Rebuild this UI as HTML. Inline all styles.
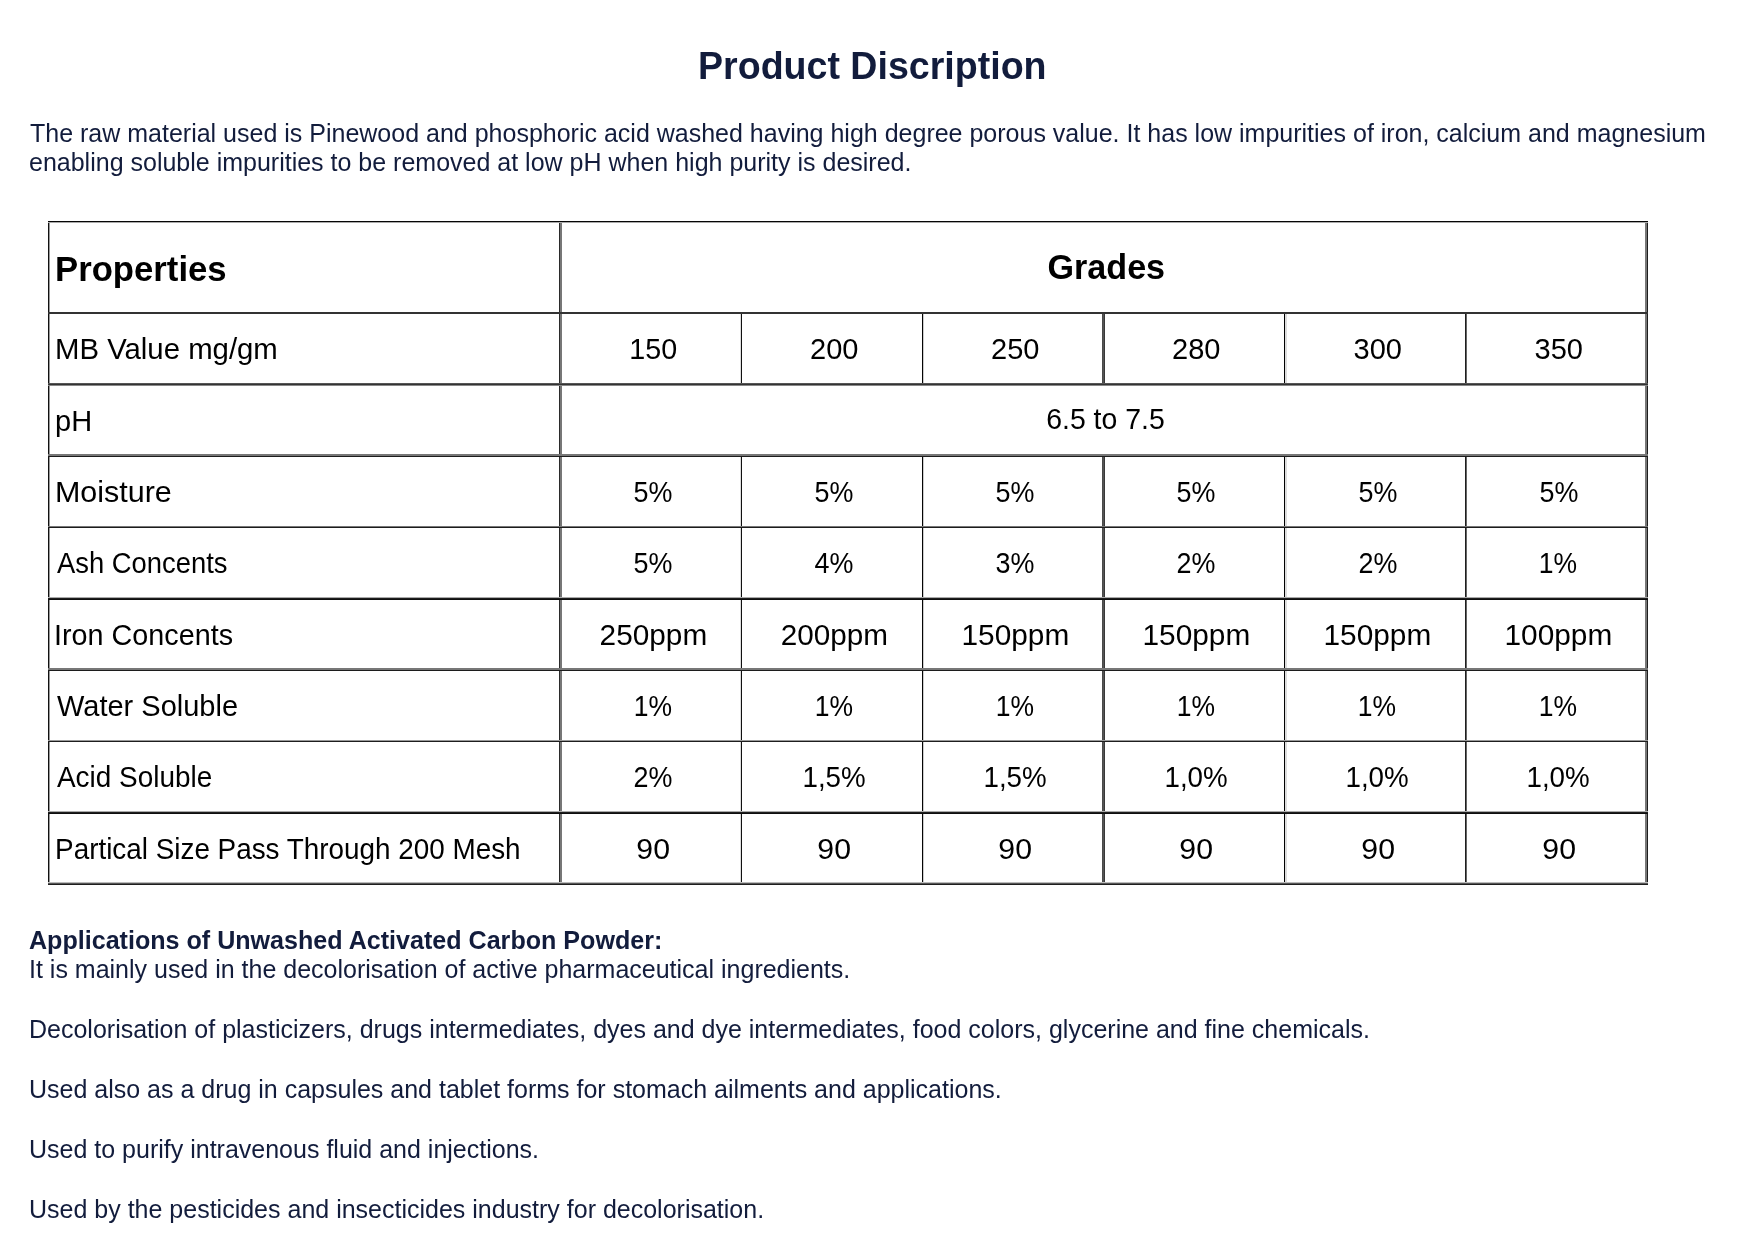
<!DOCTYPE html>
<html><head><meta charset="utf-8"><title>Product Discription</title>
<style>
html,body{margin:0;padding:0;background:#fff;width:1754px;height:1240px;overflow:hidden;}
body{position:relative;font-family:"Liberation Sans", sans-serif;}
#pg{position:absolute;left:0;top:0;width:1754px;height:1240px;will-change:opacity}
.t{position:absolute;line-height:0;white-space:nowrap;}
.l{position:absolute;}
</style></head><body><div id="pg">
<div class="t" style="left:697.5px;transform-origin:2px 0;top:66px;font-size:38px;font-weight:bold;color:#121c3c;transform:scaleX(0.9885);">Product Discription</div>
<div class="t" style="left:30.0px;transform-origin:1px 0;top:133px;font-size:25px;font-weight:normal;color:#121c3c;">The raw material used is Pinewood and phosphoric acid washed having high degree porous value. It has low impurities of iron, calcium and magnesium</div>
<div class="t" style="left:29.0px;transform-origin:2px 0;top:162px;font-size:25px;font-weight:normal;color:#121c3c;">enabling soluble impurities to be removed at low pH when high purity is desired.</div>
<div class="l" style="left:48px;top:221px;width:1px;height:664px;background:#111111"></div>
<div class="l" style="left:49px;top:221px;width:1px;height:664px;background:#999999"></div>
<div class="l" style="left:559px;top:221px;width:1px;height:664px;background:#2a2a2a"></div>
<div class="l" style="left:560px;top:221px;width:1px;height:664px;background:#777777"></div>
<div class="l" style="left:561px;top:221px;width:1px;height:664px;background:#777777"></div>
<div class="l" style="left:740px;top:312px;width:1px;height:73px;background:#dddddd"></div>
<div class="l" style="left:740px;top:454px;width:1px;height:431px;background:#dddddd"></div>
<div class="l" style="left:741px;top:312px;width:1px;height:73px;background:#101010"></div>
<div class="l" style="left:741px;top:454px;width:1px;height:431px;background:#101010"></div>
<div class="l" style="left:922px;top:312px;width:1px;height:73px;background:#050505"></div>
<div class="l" style="left:922px;top:454px;width:1px;height:431px;background:#050505"></div>
<div class="l" style="left:923px;top:312px;width:1px;height:73px;background:#cccccc"></div>
<div class="l" style="left:923px;top:454px;width:1px;height:431px;background:#cccccc"></div>
<div class="l" style="left:1102px;top:312px;width:1px;height:73px;background:#4a4a4a"></div>
<div class="l" style="left:1102px;top:454px;width:1px;height:431px;background:#4a4a4a"></div>
<div class="l" style="left:1103px;top:312px;width:1px;height:73px;background:#555555"></div>
<div class="l" style="left:1103px;top:454px;width:1px;height:431px;background:#555555"></div>
<div class="l" style="left:1104px;top:312px;width:1px;height:73px;background:#393939"></div>
<div class="l" style="left:1104px;top:454px;width:1px;height:431px;background:#393939"></div>
<div class="l" style="left:1284px;top:312px;width:1px;height:73px;background:#000000"></div>
<div class="l" style="left:1284px;top:454px;width:1px;height:431px;background:#000000"></div>
<div class="l" style="left:1285px;top:312px;width:1px;height:73px;background:#dddddd"></div>
<div class="l" style="left:1285px;top:454px;width:1px;height:431px;background:#dddddd"></div>
<div class="l" style="left:1286px;top:312px;width:1px;height:73px;background:#dddddd"></div>
<div class="l" style="left:1286px;top:454px;width:1px;height:431px;background:#dddddd"></div>
<div class="l" style="left:1465px;top:312px;width:1px;height:73px;background:#1f1f1f"></div>
<div class="l" style="left:1465px;top:454px;width:1px;height:431px;background:#1f1f1f"></div>
<div class="l" style="left:1466px;top:312px;width:1px;height:73px;background:#666666"></div>
<div class="l" style="left:1466px;top:454px;width:1px;height:431px;background:#666666"></div>
<div class="l" style="left:1645px;top:221px;width:1px;height:664px;background:#777777"></div>
<div class="l" style="left:1646px;top:221px;width:1px;height:664px;background:#777777"></div>
<div class="l" style="left:1647px;top:221px;width:1px;height:664px;background:#1e1e1e"></div>
<div class="l" style="left:48px;top:221px;width:1600px;height:1px;background:#050505"></div>
<div class="l" style="left:48px;top:222px;width:1600px;height:1px;background:#aaaaaa"></div>
<div class="l" style="left:48px;top:312px;width:1600px;height:1px;background:#333333"></div>
<div class="l" style="left:48px;top:313px;width:1600px;height:1px;background:#333333"></div>
<div class="l" style="left:48px;top:383px;width:1600px;height:1px;background:#555555"></div>
<div class="l" style="left:48px;top:384px;width:1600px;height:1px;background:#333333"></div>
<div class="l" style="left:48px;top:385px;width:1600px;height:1px;background:#888888"></div>
<div class="l" style="left:48px;top:454px;width:1600px;height:1px;background:#777777"></div>
<div class="l" style="left:48px;top:455px;width:1600px;height:1px;background:#777777"></div>
<div class="l" style="left:48px;top:456px;width:1600px;height:1px;background:#1c1c1c"></div>
<div class="l" style="left:48px;top:526px;width:1600px;height:1px;background:#777777"></div>
<div class="l" style="left:48px;top:527px;width:1600px;height:1px;background:#1c1c1c"></div>
<div class="l" style="left:48px;top:597px;width:1600px;height:1px;background:#aaaaaa"></div>
<div class="l" style="left:48px;top:598px;width:1600px;height:1px;background:#1e1e1e"></div>
<div class="l" style="left:48px;top:599px;width:1600px;height:1px;background:#0e0e0e"></div>
<div class="l" style="left:48px;top:668px;width:1600px;height:1px;background:#777777"></div>
<div class="l" style="left:48px;top:669px;width:1600px;height:1px;background:#777777"></div>
<div class="l" style="left:48px;top:670px;width:1600px;height:1px;background:#1c1c1c"></div>
<div class="l" style="left:48px;top:740px;width:1600px;height:1px;background:#999999"></div>
<div class="l" style="left:48px;top:741px;width:1600px;height:1px;background:#1e1e1e"></div>
<div class="l" style="left:48px;top:811px;width:1600px;height:1px;background:#aaaaaa"></div>
<div class="l" style="left:48px;top:812px;width:1600px;height:1px;background:#1e1e1e"></div>
<div class="l" style="left:48px;top:813px;width:1600px;height:1px;background:#0e0e0e"></div>
<div class="l" style="left:48px;top:882px;width:1600px;height:1px;background:#bbbbbb"></div>
<div class="l" style="left:48px;top:883px;width:1600px;height:1px;background:#555555"></div>
<div class="l" style="left:48px;top:884px;width:1600px;height:1px;background:#1e1e1e"></div>
<div class="t" style="left:55.0px;transform-origin:2px 0;top:269px;font-size:35px;font-weight:bold;color:#000;transform:scaleX(0.9912);">Properties</div>
<div class="t" style="left:55.0px;transform-origin:2px 0;top:349px;font-size:29px;font-weight:normal;color:#000;transform:scaleX(1.0116);">MB Value mg/gm</div>
<div class="t" style="left:55.0px;transform-origin:2px 0;top:421px;font-size:29px;font-weight:normal;color:#000;transform:scaleX(1.0000);">pH</div>
<div class="t" style="left:55.0px;transform-origin:2px 0;top:492px;font-size:29px;font-weight:normal;color:#000;transform:scaleX(1.0509);">Moisture</div>
<div class="t" style="left:57.0px;transform-origin:0px 0;top:563px;font-size:29px;font-weight:normal;color:#000;transform:scaleX(0.9444);">Ash Concents</div>
<div class="t" style="left:54.0px;transform-origin:3px 0;top:635px;font-size:29px;font-weight:normal;color:#000;transform:scaleX(0.9915);">Iron Concents</div>
<div class="t" style="left:57.0px;transform-origin:0px 0;top:706px;font-size:29px;font-weight:normal;color:#000;transform:scaleX(1.0000);">Water Soluble</div>
<div class="t" style="left:57.0px;transform-origin:0px 0;top:777px;font-size:29px;font-weight:normal;color:#000;transform:scaleX(0.9625);">Acid Soluble</div>
<div class="t" style="left:55.0px;transform-origin:2px 0;top:849px;font-size:29px;font-weight:normal;color:#000;transform:scaleX(0.9605);">Partical Size Pass Through 200 Mesh</div>
<div class="t" style="left:1046.0px;top:267px;font-size:35px;font-weight:bold;color:#000;transform:scaleX(0.9746);transform-origin:60.0px 0">Grades</div>
<div class="t" style="left:1044.5px;top:419px;font-size:29px;font-weight:normal;color:#000;transform:scaleX(0.9807);transform-origin:60.5px 0">6.5 to 7.5</div>
<div class="t" style="left:628.5px;top:349px;font-size:29px;font-weight:normal;color:#000;transform:scaleX(0.9889);transform-origin:24.5px 0">150</div>
<div class="t" style="left:810.0px;top:349px;font-size:29px;font-weight:normal;color:#000;transform:scaleX(1.0000);transform-origin:24.0px 0">200</div>
<div class="t" style="left:991.0px;top:349px;font-size:29px;font-weight:normal;color:#000;transform:scaleX(1.0000);transform-origin:24.0px 0">250</div>
<div class="t" style="left:1172.0px;top:349px;font-size:29px;font-weight:normal;color:#000;transform:scaleX(1.0000);transform-origin:24.0px 0">280</div>
<div class="t" style="left:1353.5px;top:349px;font-size:29px;font-weight:normal;color:#000;transform:scaleX(1.0000);transform-origin:24.0px 0">300</div>
<div class="t" style="left:1534.5px;top:349px;font-size:29px;font-weight:normal;color:#000;transform:scaleX(1.0000);transform-origin:24.0px 0">350</div>
<div class="t" style="left:632.0px;top:492px;font-size:29px;font-weight:normal;color:#000;transform:scaleX(0.9275);transform-origin:21.0px 0">5%</div>
<div class="t" style="left:813.0px;top:492px;font-size:29px;font-weight:normal;color:#000;transform:scaleX(0.9275);transform-origin:21.0px 0">5%</div>
<div class="t" style="left:994.0px;top:492px;font-size:29px;font-weight:normal;color:#000;transform:scaleX(0.9275);transform-origin:21.0px 0">5%</div>
<div class="t" style="left:1175.0px;top:492px;font-size:29px;font-weight:normal;color:#000;transform:scaleX(0.9275);transform-origin:21.0px 0">5%</div>
<div class="t" style="left:1356.5px;top:492px;font-size:29px;font-weight:normal;color:#000;transform:scaleX(0.9275);transform-origin:21.0px 0">5%</div>
<div class="t" style="left:1537.5px;top:492px;font-size:29px;font-weight:normal;color:#000;transform:scaleX(0.9275);transform-origin:21.0px 0">5%</div>
<div class="t" style="left:632.0px;top:563px;font-size:29px;font-weight:normal;color:#000;transform:scaleX(0.9275);transform-origin:21.0px 0">5%</div>
<div class="t" style="left:813.0px;top:563px;font-size:29px;font-weight:normal;color:#000;transform:scaleX(0.9275);transform-origin:21.0px 0">4%</div>
<div class="t" style="left:994.0px;top:563px;font-size:29px;font-weight:normal;color:#000;transform:scaleX(0.9275);transform-origin:21.0px 0">3%</div>
<div class="t" style="left:1175.0px;top:563px;font-size:29px;font-weight:normal;color:#000;transform:scaleX(0.9275);transform-origin:21.0px 0">2%</div>
<div class="t" style="left:1356.5px;top:563px;font-size:29px;font-weight:normal;color:#000;transform:scaleX(0.9275);transform-origin:21.0px 0">2%</div>
<div class="t" style="left:1537.0px;top:563px;font-size:29px;font-weight:normal;color:#000;transform:scaleX(0.9128);transform-origin:21.5px 0">1%</div>
<div class="t" style="left:601.0px;top:635px;font-size:29px;font-weight:normal;color:#000;transform:scaleX(1.0265);transform-origin:52.0px 0">250ppm</div>
<div class="t" style="left:782.0px;top:635px;font-size:29px;font-weight:normal;color:#000;transform:scaleX(1.0235);transform-origin:52.0px 0">200ppm</div>
<div class="t" style="left:962.5px;top:635px;font-size:29px;font-weight:normal;color:#000;transform:scaleX(1.0277);transform-origin:52.5px 0">150ppm</div>
<div class="t" style="left:1143.5px;top:635px;font-size:29px;font-weight:normal;color:#000;transform:scaleX(1.0277);transform-origin:52.5px 0">150ppm</div>
<div class="t" style="left:1325.0px;top:635px;font-size:29px;font-weight:normal;color:#000;transform:scaleX(1.0277);transform-origin:52.5px 0">150ppm</div>
<div class="t" style="left:1506.0px;top:635px;font-size:29px;font-weight:normal;color:#000;transform:scaleX(1.0277);transform-origin:52.5px 0">100ppm</div>
<div class="t" style="left:631.5px;top:706px;font-size:29px;font-weight:normal;color:#000;transform:scaleX(0.9128);transform-origin:21.5px 0">1%</div>
<div class="t" style="left:812.5px;top:706px;font-size:29px;font-weight:normal;color:#000;transform:scaleX(0.9128);transform-origin:21.5px 0">1%</div>
<div class="t" style="left:993.5px;top:706px;font-size:29px;font-weight:normal;color:#000;transform:scaleX(0.9128);transform-origin:21.5px 0">1%</div>
<div class="t" style="left:1174.5px;top:706px;font-size:29px;font-weight:normal;color:#000;transform:scaleX(0.9128);transform-origin:21.5px 0">1%</div>
<div class="t" style="left:1356.0px;top:706px;font-size:29px;font-weight:normal;color:#000;transform:scaleX(0.9128);transform-origin:21.5px 0">1%</div>
<div class="t" style="left:1537.0px;top:706px;font-size:29px;font-weight:normal;color:#000;transform:scaleX(0.9128);transform-origin:21.5px 0">1%</div>
<div class="t" style="left:632.0px;top:777px;font-size:29px;font-weight:normal;color:#000;transform:scaleX(0.9275);transform-origin:21.0px 0">2%</div>
<div class="t" style="left:800.5px;top:777px;font-size:29px;font-weight:normal;color:#000;transform:scaleX(0.9556);transform-origin:33.5px 0">1,5%</div>
<div class="t" style="left:981.5px;top:777px;font-size:29px;font-weight:normal;color:#000;transform:scaleX(0.9556);transform-origin:33.5px 0">1,5%</div>
<div class="t" style="left:1162.5px;top:777px;font-size:29px;font-weight:normal;color:#000;transform:scaleX(0.9556);transform-origin:33.5px 0">1,0%</div>
<div class="t" style="left:1344.0px;top:777px;font-size:29px;font-weight:normal;color:#000;transform:scaleX(0.9556);transform-origin:33.5px 0">1,0%</div>
<div class="t" style="left:1525.0px;top:777px;font-size:29px;font-weight:normal;color:#000;transform:scaleX(0.9556);transform-origin:33.5px 0">1,0%</div>
<div class="t" style="left:637.0px;top:849px;font-size:29px;font-weight:normal;color:#000;transform:scaleX(1.0433);transform-origin:16.0px 0">90</div>
<div class="t" style="left:818.0px;top:849px;font-size:29px;font-weight:normal;color:#000;transform:scaleX(1.0433);transform-origin:16.0px 0">90</div>
<div class="t" style="left:999.0px;top:849px;font-size:29px;font-weight:normal;color:#000;transform:scaleX(1.0433);transform-origin:16.0px 0">90</div>
<div class="t" style="left:1180.0px;top:849px;font-size:29px;font-weight:normal;color:#000;transform:scaleX(1.0433);transform-origin:16.0px 0">90</div>
<div class="t" style="left:1361.5px;top:849px;font-size:29px;font-weight:normal;color:#000;transform:scaleX(1.0433);transform-origin:16.0px 0">90</div>
<div class="t" style="left:1542.5px;top:849px;font-size:29px;font-weight:normal;color:#000;transform:scaleX(1.0433);transform-origin:16.0px 0">90</div>
<div class="t" style="left:29.0px;transform-origin:2px 0;top:940px;font-size:25px;font-weight:bold;color:#121c3c;transform:scaleX(1.0035);">Applications of Unwashed Activated Carbon Powder:</div>
<div class="t" style="left:29.0px;transform-origin:2px 0;top:969px;font-size:25px;font-weight:normal;color:#121c3c;">It is mainly used in the decolorisation of active pharmaceutical ingredients.</div>
<div class="t" style="left:29.0px;transform-origin:2px 0;top:1029px;font-size:25px;font-weight:normal;color:#121c3c;">Decolorisation of plasticizers, drugs intermediates, dyes and dye intermediates, food colors, glycerine and fine chemicals.</div>
<div class="t" style="left:29.0px;transform-origin:2px 0;top:1089px;font-size:25px;font-weight:normal;color:#121c3c;">Used also as a drug in capsules and tablet forms for stomach ailments and applications.</div>
<div class="t" style="left:29.0px;transform-origin:2px 0;top:1149px;font-size:25px;font-weight:normal;color:#121c3c;">Used to purify intravenous fluid and injections.</div>
<div class="t" style="left:29.0px;transform-origin:2px 0;top:1209px;font-size:25px;font-weight:normal;color:#121c3c;">Used by the pesticides and insecticides industry for decolorisation.</div>
</div></body></html>
